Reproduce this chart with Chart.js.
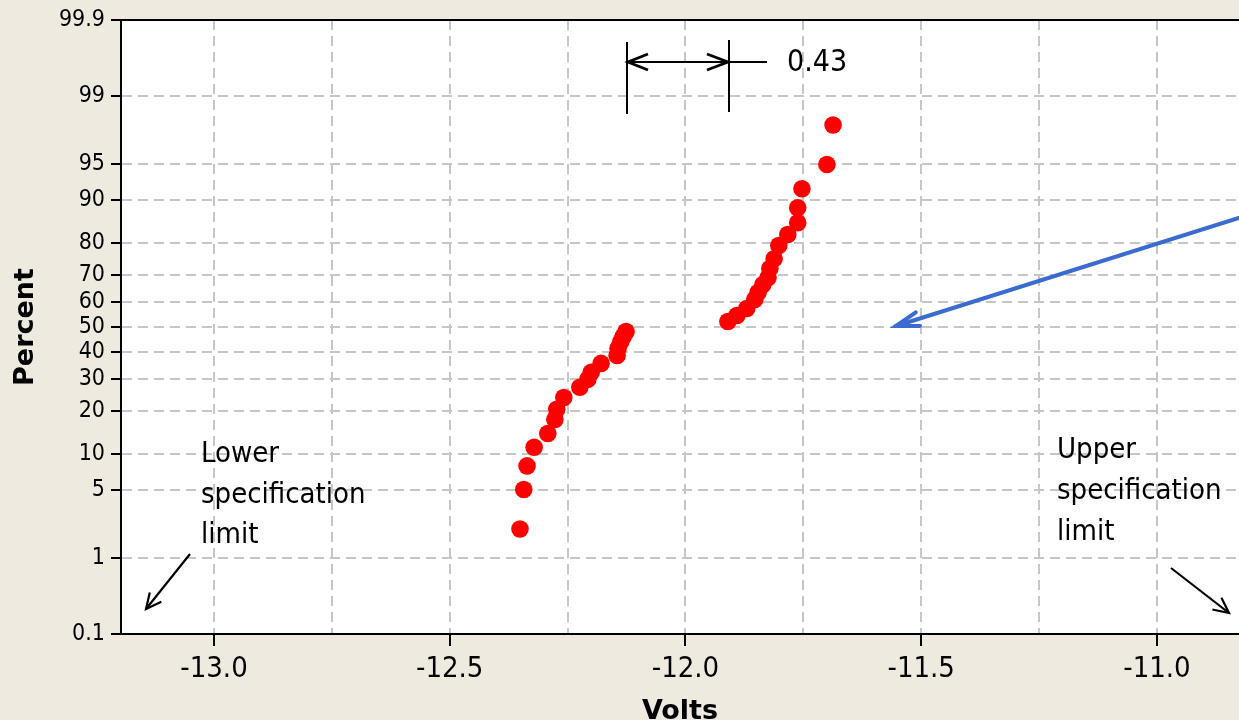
<!DOCTYPE html>
<html><head><meta charset="utf-8">
<script src="https://cdn.jsdelivr.net/npm/chart.js@4.4.1/dist/chart.umd.min.js"></script>
<style>
html,body{margin:0;padding:0;background:#EEEAE0;overflow:hidden;}
#wrap{width:1239px;height:720px;position:relative;}
canvas{display:block;}
</style></head><body>
<div id="wrap"><canvas id="c" width="1239" height="720"></canvas></div>
<script>
// ---- data ----
const volts = [-12.351,-12.343,-12.336,-12.321,-12.292,-12.277,-12.273,-12.258,-12.224,-12.207,-12.200,-12.179,-12.145,-12.143,-12.137,-12.132,-12.126,
               -11.910,-11.891,-11.870,-11.853,-11.846,-11.836,-11.825,-11.821,-11.812,-11.802,-11.783,-11.762,-11.762,-11.753,-11.700,-11.687];
const percent = [2.1,5.1,8.1,11.3,14.2,17.6,20.4,23.9,27.2,29.9,32.4,35.7,38.7,41.4,44.2,46.2,48.2,
                 52.2,54.6,57.4,60.9,63.6,66.5,69.0,72.2,75.4,79.4,82.4,85.3,88.5,91.8,94.9,97.9];
const yTickValues = [0.1,1,5,10,20,30,40,50,60,70,80,90,95,99,99.9];
const xGridValues = [-13.0,-12.75,-12.5,-12.25,-12.0,-11.75,-11.5,-11.25,-11.0];
const xMajorTicks = [-13.0,-12.5,-12.0,-11.5,-11.0];
const gapLabel = '0.43';
const lowerLabel = ['Lower','specification','limit'];
const upperLabel = ['Upper','specification','limit'];

// ---- normal quantile / cdf ----
function probit(p){
  const a=[-3.969683028665376e+01,2.209460984245205e+02,-2.759285104469687e+02,1.383577518672690e+02,-3.066479806614716e+01,2.506628277459239e+00];
  const b=[-5.447609879822406e+01,1.615858368580409e+02,-1.556989798598866e+02,6.680131188771972e+01,-1.328068155288572e+01];
  const c=[-7.784894002430293e-03,-3.223964580411365e-01,-2.400758277161838e+00,-2.549732539343734e+00,4.374664141464968e+00,2.938163982698783e+00];
  const d=[7.784695709041462e-03,3.224671290700398e-01,2.445134137142996e+00,3.754408661907416e+00];
  const pl=0.02425, ph=1-pl; let q,r;
  if(p<pl){q=Math.sqrt(-2*Math.log(p));return (((((c[0]*q+c[1])*q+c[2])*q+c[3])*q+c[4])*q+c[5])/((((d[0]*q+d[1])*q+d[2])*q+d[3])*q+1);}
  if(p<=ph){q=p-0.5;r=q*q;return (((((a[0]*r+a[1])*r+a[2])*r+a[3])*r+a[4])*r+a[5])*q/(((((b[0]*r+b[1])*r+b[2])*r+b[3])*r+b[4])*r+1);}
  q=Math.sqrt(-2*Math.log(1-p));return -(((((c[0]*q+c[1])*q+c[2])*q+c[3])*q+c[4])*q+c[5])/((((d[0]*q+d[1])*q+d[2])*q+d[3])*q+1);
}
function ncdf(z){
  const t=1/(1+0.3275911*Math.abs(z)/Math.SQRT2);
  const y=1-(((((1.061405429*t-1.453152027)*t)+1.421413741)*t-0.284496736)*t+0.254829592)*t*Math.exp(-z*z/2);
  return z>=0 ? 0.5*(1+y) : 0.5*(1-y);
}

// ---- normal probability scale ----
class ProbabilityScale extends Chart.Scale {
  determineDataLimits(){
    const mm = this.getMinMax(true);
    this.min = this.options.min ?? mm.min;
    this.max = this.options.max ?? mm.max;
  }
  buildTicks(){ return yTickValues.map(v => ({value:v})); }
  getLabelForValue(v){ return String(v); }
  getPixelForValue(v){
    const z0 = probit(this.min/100), z1 = probit(this.max/100);
    return this.getPixelForDecimal((probit(v/100)-z0)/(z1-z0));
  }
  getValueForPixel(px){
    const z0 = probit(this.min/100), z1 = probit(this.max/100);
    return 100*ncdf(z0 + this.getDecimalForPixel(px)*(z1-z0));
  }
}
ProbabilityScale.id = 'probability';
ProbabilityScale.defaults = {};
Chart.register(ProbabilityScale);

const FONT = "'DejaVu Sans Condensed', 'DejaVu Sans', sans-serif";
const BOLD = "'DejaVu Sans', sans-serif";
const GRID = '#C6C6C6';

function arrow(ctx, x1, y1, x2, y2, len, ang){
  ctx.beginPath(); ctx.moveTo(x1,y1); ctx.lineTo(x2,y2); ctx.stroke();
  const t = Math.atan2(y2-y1, x2-x1);
  ctx.beginPath();
  ctx.moveTo(x2 - len*Math.cos(t-ang), y2 - len*Math.sin(t-ang));
  ctx.lineTo(x2, y2);
  ctx.lineTo(x2 - len*Math.cos(t+ang), y2 - len*Math.sin(t+ang));
  ctx.stroke();
}

const decor = {
  id: 'decor',
  beforeDraw(chart){
    const {ctx, chartArea:a} = chart;
    ctx.save();
    ctx.fillStyle = '#EEEAE0'; ctx.fillRect(0,0,chart.width,chart.height);
    ctx.fillStyle = '#FFFFFF'; ctx.fillRect(a.left,a.top,a.right-a.left,a.bottom-a.top);
    ctx.restore();
  },
  afterDraw(chart){
    const {ctx, chartArea:a, scales} = chart;
    const xs = scales.x;
    ctx.save();
    ctx.strokeStyle = '#000'; ctx.lineWidth = 2; ctx.lineCap = 'butt';
    // top frame line
    ctx.beginPath(); ctx.moveTo(a.left-1, a.top); ctx.lineTo(a.right, a.top); ctx.stroke();

    // gap dimension between the two groups
    const xa = Math.round(xs.getPixelForValue(volts[16]))+1;
    const xb = Math.round(xs.getPixelForValue(volts[17]))+1;
    ctx.beginPath();
    ctx.moveTo(xa, 42); ctx.lineTo(xa, 114);
    ctx.moveTo(xb, 40); ctx.lineTo(xb, 112);
    ctx.moveTo(xa, 62); ctx.lineTo(xb+38, 62);
    ctx.stroke();
    ctx.lineWidth = 2.8;
    ctx.beginPath();
    ctx.moveTo(xa+21, 54); ctx.lineTo(xa+1, 62); ctx.lineTo(xa+21, 70);
    ctx.moveTo(xb-22, 54); ctx.lineTo(xb-1, 62); ctx.lineTo(xb-22, 70);
    ctx.stroke();
    ctx.fillStyle = '#000';
    ctx.font = '30px ' + FONT;
    ctx.textBaseline = 'alphabetic'; ctx.textAlign = 'left';
    ctx.fillText(gapLabel, 787, 71);

    // spec limit labels
    ctx.font = '29px ' + FONT;
    lowerLabel.forEach((s,i) => ctx.fillText(s, 201, 462 + i*40.5));
    upperLabel.forEach((s,i) => ctx.fillText(s, 1057, 458 + i*41));
    ctx.lineWidth = 2.2;
    arrow(ctx, 190, 554, 146, 609, 17, 0.45);
    arrow(ctx, 1171, 568, 1229, 613, 17, 0.45);

    // blue pointer arrow
    ctx.strokeStyle = '#3A6BD0'; ctx.lineWidth = 4; ctx.lineCap = 'round';
    arrow(ctx, 1242, 217, 896, 326, 24, 0.3);
    ctx.restore();
  }
};

const chart = new Chart(document.getElementById('c'), {
  type: 'scatter',
  data: {
    datasets: [{
      label: 'Volts',
      data: volts.map((v,i) => ({x:v, y:percent[i]})),
      pointRadius: 8.8, pointHoverRadius: 8.8,
      pointBackgroundColor: '#FF0000', pointBorderWidth: 0, pointBorderColor: '#FF0000'
    }]
  },
  plugins: [decor],
  options: {
    responsive: false, animation: false, devicePixelRatio: 1,
    layout: { autoPadding: false, padding: {top: 20, right: 0, bottom: 0, left: 0} },
    plugins: { legend: {display:false}, tooltip: {enabled:false} },
    scales: {
      x: {
        type: 'linear', min: -13.1972, max: -10.826,
        afterBuildTicks: s => { s.ticks = xGridValues.map(v => ({value:v})); },
        afterFit: s => { s.height = 86; },
        ticks: {
          autoSkip: false, maxRotation: 0, color: '#000', padding: 6,
          font: {family: FONT, size: 29},
          callback: v => xMajorTicks.includes(v) ? v.toFixed(1) : ''
        },
        grid: {
          color: GRID, lineWidth: 2, tickLength: 12, tickWidth: 2,
          tickColor: c => (c.tick && xMajorTicks.includes(c.tick.value)) ? '#000' : 'rgba(0,0,0,0)'
        },
        border: {display: true, color: '#000', width: 2, dash: [10,6]},
        title: {display: true, text: 'Volts', color: '#000', padding: {top:0, bottom:-5},
                font: {family: BOLD, size: 27, weight: 'bold', lineHeight: 1.0}}
      },
      y: {
        type: 'probability', min: 0.1, max: 99.9,
        afterFit: s => { s.width = 121; },
        ticks: {color: '#000', padding: 6, font: {family: FONT, size: 23}, callback: v => String(v)},
        grid: {color: GRID, lineWidth: 2, tickLength: 10, tickWidth: 2, tickColor: '#000'},
        border: {display: true, color: '#000', width: 2, dash: [10,6]},
        title: {display: true, text: 'Percent', color: '#000', padding: {top: 12, bottom: 0},
                font: {family: BOLD, size: 27, weight: 'bold', lineHeight: 1.0}}
      }
    }
  }
});
</script>
</body></html>
